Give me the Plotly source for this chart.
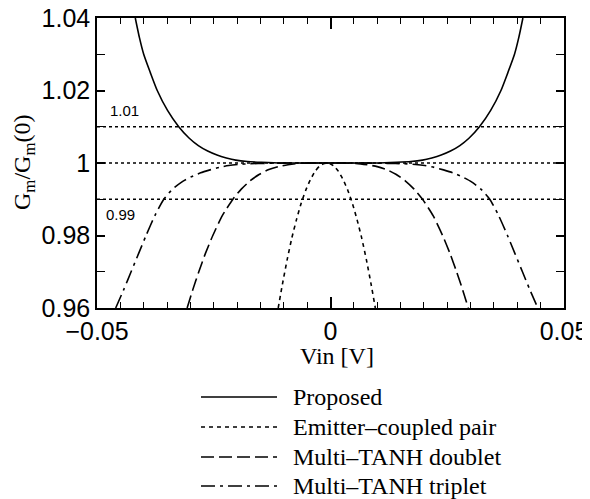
import plotly.graph_objects as go

# ---- data ----
proposed_vin = [-0.0418, -0.0409, -0.0400, -0.0386, -0.0371, -0.0349, -0.0325, -0.0303, -0.0283,
                -0.0263, -0.0243, -0.0223, -0.0203, -0.0178, -0.0148, -0.0103, -0.0003,
                0.0097, 0.0142, 0.0172, 0.0197, 0.0217, 0.0237, 0.0257, 0.0277, 0.0297,
                0.0319, 0.0343, 0.0365, 0.0380, 0.0394, 0.0403, 0.0412]
proposed_gm = [1.0400, 1.0345, 1.0300, 1.0250, 1.0200, 1.0145, 1.0100, 1.0069, 1.0048,
               1.0033, 1.0022, 1.0014, 1.0008, 1.0004, 1.0002, 1.0000, 1.0000,
               1.0000, 1.0002, 1.0004, 1.0008, 1.0014, 1.0022, 1.0033, 1.0048, 1.0069,
               1.0100, 1.0145, 1.0200, 1.0250, 1.0300, 1.0345, 1.0400]

ecp_vin = [-0.0112, -0.0103, -0.0093, -0.0083, -0.0073, -0.0063, -0.0053, -0.0043, -0.0033,
           -0.0023, -0.0015, -0.0008, -0.0001, 0.0007, 0.0017, 0.0027, 0.0037, 0.0047,
           0.0057, 0.0067, 0.0077, 0.0087, 0.0096]
ecp_gm = [0.9600, 0.9665, 0.9732, 0.9792, 0.9843, 0.9888, 0.9925, 0.9954, 0.9977,
          0.9992, 0.9998, 1.0000, 0.9998, 0.9992, 0.9977, 0.9954, 0.9925, 0.9888,
          0.9843, 0.9792, 0.9732, 0.9665, 0.9600]

doublet_vin = [-0.0307, -0.0295, -0.0282, -0.0268, -0.0252, -0.0232, -0.0209, -0.0191, -0.0172,
               -0.0152, -0.0132, -0.0112, -0.0091, -0.0066, -0.0006, 0.0054, 0.0079, 0.0100,
               0.0120, 0.0140, 0.0160, 0.0179, 0.0197, 0.0220, 0.0240, 0.0256, 0.0270,
               0.0283, 0.0295]
doublet_gm = [0.9600, 0.9650, 0.9700, 0.9750, 0.9800, 0.9854, 0.9900, 0.9928, 0.9951,
              0.9969, 0.9982, 0.9990, 0.9995, 0.9999, 1.0000, 0.9999, 0.9995, 0.9990,
              0.9982, 0.9969, 0.9951, 0.9928, 0.9900, 0.9854, 0.9800, 0.9750, 0.9700,
              0.9650, 0.9600]

triplet_vin = [-0.0460, -0.0443, -0.0427, -0.0411, -0.0395, -0.0376, -0.0357, -0.0338, -0.0318,
               -0.0298, -0.0278, -0.0258, -0.0238, -0.0218, -0.0198, -0.0173, -0.0138, -0.0088,
               -0.0008, 0.0072, 0.0122, 0.0157, 0.0182, 0.0202, 0.0222, 0.0242, 0.0262,
               0.0282, 0.0302, 0.0322, 0.0341, 0.0360, 0.0379, 0.0395, 0.0411, 0.0427, 0.0444]
triplet_gm = [0.9600, 0.9650, 0.9700, 0.9750, 0.9800, 0.9855, 0.9900, 0.9928, 0.9948,
              0.9962, 0.9973, 0.9981, 0.9988, 0.9993, 0.9996, 0.9998, 0.9999, 1.0000,
              1.0000, 1.0000, 0.9999, 0.9998, 0.9996, 0.9993, 0.9988, 0.9981, 0.9973,
              0.9962, 0.9948, 0.9928, 0.9900, 0.9855, 0.9800, 0.9750, 0.9700, 0.9650, 0.9600]

ref_levels = [1.01, 1.00, 0.99]
ref_label_hi = "1.01"
ref_label_lo = "0.99"

x_ticks = [-0.05, 0.0, 0.05]
x_ticktext = ["\u22120.05", "0", "0.05"]
y_ticks = [0.96, 0.98, 1.00, 1.02, 1.04]
y_ticktext = ["0.96", "0.98", "1", "1.02", "1.04"]

series_names = ["Proposed", "Emitter\u2013coupled pair", "Multi\u2013TANH doublet", "Multi\u2013TANH triplet"]
series_dash = ["solid", "4px,4px", "13px,5px", "14px,5px,3px,5px"]

# ---- figure (page body has an 8px margin, so the figure is sized to fit) ----
OFF = 8
W, H = 590 - OFF, 499 - OFF
L, R, T, B = 97 - OFF, 26, 18 - OFF, 191
pw, ph = W - L - R, H - T - B

fig = go.Figure()

for lvl in ref_levels:
    fig.add_trace(go.Scatter(x=[x_ticks[0], x_ticks[-1]], y=[lvl, lvl], mode="lines",
                             line=dict(color="black", width=1.3, dash="3px,3px"),
                             showlegend=False, hoverinfo="skip"))

data = [(proposed_vin, proposed_gm), (ecp_vin, ecp_gm), (doublet_vin, doublet_gm), (triplet_vin, triplet_gm)]
for (xs, ys), name, dash in zip(data, series_names, series_dash):
    fig.add_trace(go.Scatter(x=xs, y=ys, mode="lines", name=name,
                             line=dict(color="black", width=1.6, dash=dash, shape="spline", smoothing=0.6),
                             showlegend=False))

# screen pixel -> paper coordinates
def px2paper_x(px):
    return (px - OFF - L) / pw

def px2paper_y(py):
    return (H - B - (py - OFF)) / ph

annotations = []
annotations.append(dict(x=x_ticks[0], y=ref_levels[0], xref="x", yref="y", text=ref_label_hi,
                        showarrow=False, xanchor="left", yanchor="bottom", xshift=11, yshift=6,
                        font=dict(family="Liberation Sans, Arial", size=15, color="black")))
annotations.append(dict(x=x_ticks[0], y=ref_levels[2], xref="x", yref="y", text=ref_label_lo,
                        showarrow=False, xanchor="left", yanchor="top", xshift=7, yshift=-5,
                        font=dict(family="Liberation Sans, Arial", size=15, color="black")))
annotations.append(dict(x=px2paper_x(337), y=px2paper_y(356), xref="paper", yref="paper",
                        text="Vin [V]", showarrow=False, xanchor="center", yanchor="middle",
                        font=dict(family="Liberation Serif, Times New Roman", size=24, color="black")))
annotations.append(dict(x=px2paper_x(24), y=px2paper_y(163), xref="paper", yref="paper",
                        text="G<sub>m</sub>/G<sub>m</sub>(0)", showarrow=False, textangle=-90,
                        xanchor="center", yanchor="middle",
                        font=dict(family="Liberation Serif, Times New Roman", size=24, color="black")))

shapes = []
row_y = [397, 427, 457, 486]
for name, dash, ry in zip(series_names, series_dash, row_y):
    shapes.append(dict(type="line", xref="paper", yref="paper",
                       x0=px2paper_x(201), x1=px2paper_x(277), y0=px2paper_y(ry), y1=px2paper_y(ry),
                       line=dict(color="black", width=1.6, dash=dash)))
    annotations.append(dict(x=px2paper_x(291), y=px2paper_y(ry), xref="paper", yref="paper",
                            text=name, showarrow=False, xanchor="left", yanchor="middle",
                            font=dict(family="Liberation Serif, Times New Roman", size=24, color="black")))

axis_font = dict(family="Liberation Sans, Arial", size=25, color="black")
fig.update_layout(
    width=W, height=H,
    margin=dict(l=L, r=R, t=T, b=B, autoexpand=False),
    paper_bgcolor="white", plot_bgcolor="white",
    showlegend=False,
    annotations=annotations,
    shapes=shapes,
    xaxis=dict(range=[-0.05, 0.05], tickvals=x_ticks, ticktext=x_ticktext, automargin=False,
               ticklabeloverflow="allow",
               ticks="inside", ticklen=11, tickwidth=1.5, tickcolor="black",
               minor=dict(dtick=0.005, tick0=0, ticks="inside", ticklen=6, tickwidth=1.3, tickcolor="black", showgrid=False),
               showline=True, linecolor="black", linewidth=1.5, mirror="ticks",
               showgrid=False, zeroline=False, tickfont=axis_font),
    yaxis=dict(range=[0.96, 1.04], tickvals=y_ticks, ticktext=y_ticktext, automargin=False,
               ticklabeloverflow="allow",
               ticks="inside", ticklen=8, tickwidth=1.5, tickcolor="black",
               minor=dict(dtick=0.01, tick0=0.96, ticks="inside", ticklen=8, tickwidth=1.3, tickcolor="black", showgrid=False),
               showline=True, linecolor="black", linewidth=1.5, mirror="ticks",
               showgrid=False, zeroline=False, tickfont=axis_font),
)

fig.write_html("out.html")
